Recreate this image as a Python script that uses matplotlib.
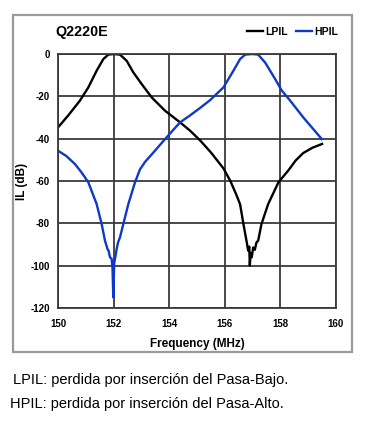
import matplotlib
matplotlib.use("Agg")
import matplotlib.pyplot as plt
from matplotlib.patches import Rectangle

# Datos (frecuencia en MHz, perdida en dB)
frec_lp = [150.0, 150.37, 150.79, 151.09, 151.39, 151.63, 151.81, 152.0, 152.23, 152.47,
           152.71, 153.01, 153.37, 153.85, 154.39, 154.75, 155.11, 155.5, 155.95, 156.2,
           156.4, 156.55, 156.67, 156.79, 156.84, 156.88, 156.9, 156.93, 156.97, 157.02,
           157.08, 157.14, 157.2, 157.32, 157.56, 157.93, 158.28, 158.55, 158.82, 159.15,
           159.5]
il_lp = [-34.7, -29, -22, -15.8, -7.9, -2.4, -0.3, 0, -0.3, -3.2,
         -8.7, -14.2, -20.5, -26.8, -32.3, -36.2, -40.8, -46.5, -54, -60,
         -66, -71, -80.3, -89, -92.9, -91, -100, -94, -96, -91.4,
         -92.5, -89, -88.2, -80.3, -70.9, -60.6, -55.1, -50.3, -46.8, -44.3,
         -42.5]

frec_hp = [150.0, 150.3, 150.61, 150.85, 151.09, 151.39, 151.57, 151.69, 151.78, 151.82,
           151.87, 151.93, 151.96, 151.99, 152.02, 152.06, 152.11, 152.16, 152.23, 152.35,
           152.53, 152.77, 152.95, 153.13, 153.5, 153.85, 154.39, 154.75, 155.11, 155.47,
           155.95, 156.31, 156.55, 156.73, 157.0, 157.2, 157.45, 157.81, 158.05, 158.35,
           158.82, 159.49]
il_hp = [-45.7, -48.2, -52, -56, -60.6, -70.9, -80.3, -88.2, -92.1, -93,
         -96, -96.8, -101, -115, -99, -96, -92.1, -89, -86.6, -80.3,
         -70.9, -60.6, -54.5, -51, -45.5, -40.2, -32.3, -29, -25.5, -21.8,
         -15.8, -7.9, -2.4, -0.3, 0, -0.3, -4, -11.8, -17.3, -22,
         -29.9, -40.2]

ticks_x = [150, 152, 154, 156, 158, 160]
ticks_y = [0, -20, -40, -60, -80, -100, -120]

fuente = "Liberation Sans"

fig = plt.figure(figsize=(3.68, 4.30), dpi=100)

# Marco exterior gris
fig.patches.append(Rectangle((13 / 368, 1 - 352 / 430), 339 / 368, 337 / 430,
                             transform=fig.transFigure, fill=False,
                             edgecolor="#9a9a9a", linewidth=1.6))

ax = fig.add_axes([58 / 368, 1 - 308 / 430, 278 / 368, 254 / 430])
ax.plot(frec_lp, il_lp, color="black", linewidth=1.7)
ax.plot(frec_hp, il_hp, color="#1038c8", linewidth=1.7)

ax.set_xlim(150, 160)
ax.set_ylim(-120, 0)
ax.set_xticks(ticks_x)
ax.set_yticks(ticks_y)
ax.set_xticklabels([str(t) for t in ticks_x], fontsize=7, fontweight="bold", family=fuente)
ax.set_yticklabels([str(t) for t in ticks_y], fontsize=7, fontweight="bold", family=fuente)
ax.tick_params(axis="y", length=0, pad=6)
ax.tick_params(axis="x", length=0, pad=8)
ax.grid(True, color="#3a3a3a", linewidth=1.3)
for s in ax.spines.values():
    s.set_color("#3a3a3a")
    s.set_linewidth(1.3)

ax.set_xlabel("Frequency (MHz)", fontsize=8.5, fontweight="bold", family=fuente)
ax.xaxis.set_label_coords(0.5, -0.12)
ax.set_ylabel("IL (dB)", fontsize=8.5, fontweight="bold", family=fuente)
ax.yaxis.set_label_coords(-30 / 278, 0.5)

# Titulo y leyenda
fig.text(55 / 368, 1 - 32 / 430, "Q2220E", fontsize=10.3, fontweight="bold",
         family=fuente, va="center")
ax.legend(["LPIL", "HPIL"], loc="lower right", bbox_to_anchor=(1.04, 1.03),
          ncol=2, frameon=False, handlelength=1.5, handletextpad=0.2,
          columnspacing=0.8, prop={"family": fuente, "weight": "bold", "size": 7.5})

# Notas al pie
fig.text(13 / 368, 1 - 380 / 430, "LPIL: perdida por inserción del Pasa-Bajo.",
         fontsize=10.5, family=fuente, va="center")
fig.text(10 / 368, 1 - 404 / 430, "HPIL: perdida por inserción del Pasa-Alto.",
         fontsize=10.5, family=fuente, va="center")

fig.savefig("out.png", dpi=100)
